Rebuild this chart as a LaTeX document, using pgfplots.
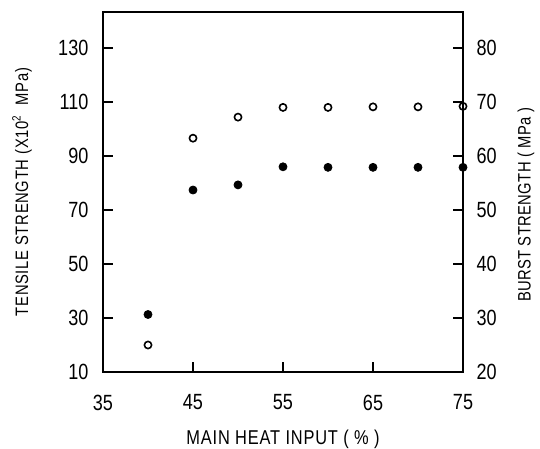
\documentclass[border=0pt]{standalone}
\usepackage{pgfplots}
\pgfplotsset{compat=1.18}
\usepackage{fontspec}
\setmainfont[FakeStretch=0.82]{Liberation Sans}
\begin{document}
\begin{tikzpicture}
\pgfplotsset{
  every axis/.append style={
    width=180pt, height=180pt, scale only axis,
    xmin=35, xmax=75,
    tick align=inside, major tick length=5pt,
    axis line style={line width=1pt},
    tick style={line width=0.8pt, black},
    ticklabel style={font=\fontsize{11}{12}\selectfont},
    /pgf/number format/assume math mode=true,
  }
}
% tensile strength, left axis (filled)
\begin{axis}[name=ax,
  ymin=10, ymax=143.33,
  xtick={35,45,55,65,75}, xtick pos=bottom,
  ytick={10,30,...,130}, ytick pos=left,
  xticklabel style={yshift=-7.8pt},
  yticklabel style={xshift=-3.8pt},
  every axis x label/.style={at={(axis description cs:0.5,0)}, yshift=-33.5pt, anchor=center,
    font=\fontsize{10}{11}\selectfont\addfontfeature{LetterSpace=4}},
  every axis y label/.style={at={(axis description cs:0,0.5)}, xshift=-40.5pt, anchor=center, rotate=90,
    font=\fontsize{9}{10}\selectfont\addfontfeature{LetterSpace=4}},
  xlabel={MAIN HEAT INPUT ( \% )},
  ylabel={TENSILE STRENGTH (X10\textsuperscript{2}\ \ MPa)},
]
\addplot[only marks, mark=*, mark size=2pt, black] coordinates {
  (40,31.3) (45,77.4) (50,79.3) (55,86.0) (60,85.8) (65,85.8) (70,85.8) (75,85.8)
};
\end{axis}
% burst strength, right axis (open)
\begin{axis}[
  ymin=20, ymax=86.67,
  axis x line=none, axis y line*=right,
  ytick={20,30,...,80},
  yticklabel style={xshift=3.3pt},
  every axis y label/.style={at={(axis description cs:1,0.5)}, xshift=31.5pt, yshift=-6.5pt, anchor=center, rotate=90,
    font=\fontsize{9}{10}\selectfont\addfontfeature{LetterSpace=2}},
  ylabel={BURST STRENGTH ( MPa )},
]
\addplot[only marks, mark=o, mark size=1.8pt, line width=0.8pt, black] coordinates {
  (40,25.0) (45,63.3) (50,67.2) (55,69.0) (60,69.0) (65,69.1) (70,69.1) (75,69.2)
};
\end{axis}
\pgfresetboundingbox
\path ([xshift=-51.5pt,yshift=-38.5pt]ax.south west) rectangle ([xshift=38.5pt,yshift=6pt]ax.north east);
\end{tikzpicture}
\end{document}
